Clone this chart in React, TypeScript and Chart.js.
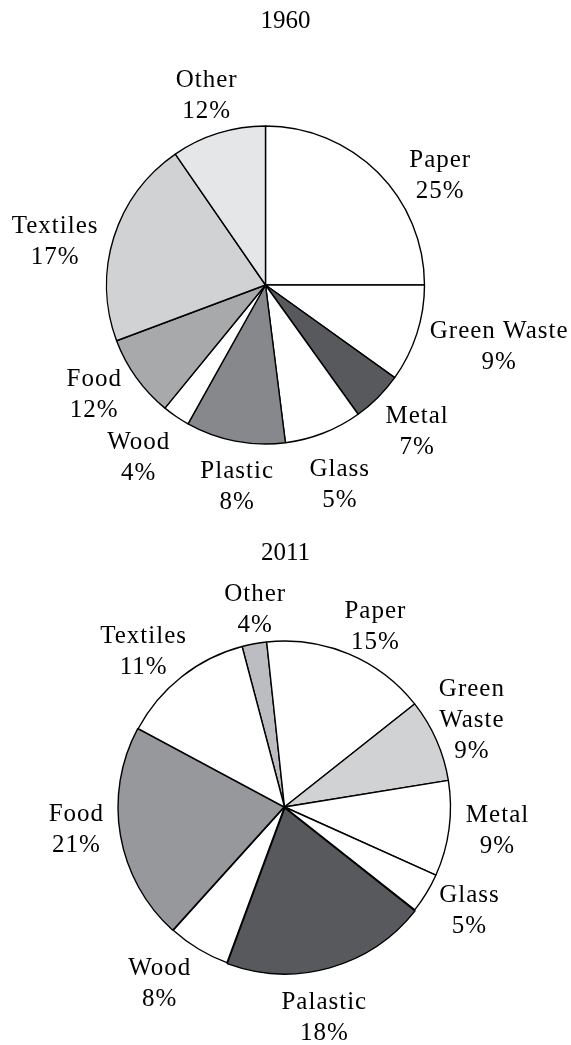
import React, { useEffect, useRef } from 'react';
import { Chart, registerables } from 'chart.js';

Chart.register(...registerables);

// ---------- 1960 ----------
const categories1960 = ['Paper', 'Green Waste', 'Metal', 'Glass', 'Plastic', 'Wood', 'Food', 'Textiles', 'Other'];
// slice sizes as drawn in the picture (share of the circle, %)
const shares1960 = [25.0, 9.9, 5.2, 7.9, 10.1, 2.8, 8.4, 21.1, 9.6];
// percentages printed on the labels
const percentLabels1960 = ['25%', '9%', '7%', '5%', '8%', '4%', '12%', '17%', '12%'];

// ---------- 2011 ----------
const categories2011 = ['Other', 'Paper', 'Green\nWaste', 'Metal', 'Glass', 'Palastic', 'Wood', 'Food', 'Textiles'];
const shares2011 = [2.4, 16.05, 8.1, 9.3, 3.9, 20.0, 6.05, 21.15, 13.05];
const percentLabels2011 = ['4%', '15%', '9%', '9%', '5%', '18%', '8%', '21%', '11%'];

// ---------- styles ----------
const fills1960 = ['#ffffff', '#ffffff', '#58595c', '#ffffff', '#87888b', '#ffffff', '#a8a9ab', '#d1d2d4', '#e5e6e8'];
const fills2011 = ['#bcbdc0', '#ffffff', '#d1d2d4', '#ffffff', '#ffffff', '#58595c', '#ffffff', '#97989b', '#ffffff'];
const offsets2011 = [0, 0, 0, 0, 0, 4, 0, 2, 0];
// label placement tweaks: [angle nudge (deg), gap from rim (px)]
const labelTweaks1960 = [[13, 7], [-3, 9], [-1, 11], [1, 19], [-3, 14], [2, 16], [3, 7], [-6, 8], [0, 5]];
const labelTweaks2011 = [[2, 3], [4, -1], [-1, -7], [-1, 14], [-2, 7], [5, 15], [4, 11], [3.5, 13], [-4, -5]];

const FONT = '"Liberation Serif", "Times New Roman", serif';

const pieLabelPlugin = {
  id: 'pieLabels',
  afterDraw(chart: any, _args: any, opts: any) {
    const ctx = chart.ctx as CanvasRenderingContext2D;
    ctx.save();
    ctx.fillStyle = '#000';
    ctx.textAlign = 'center';
    ctx.textBaseline = 'middle';
    // title
    ctx.font = `${opts.titleSize}px ${FONT}`;
    if ('letterSpacing' in ctx) (ctx as any).letterSpacing = '0px';
    ctx.fillText(opts.title, chart.width / 2, opts.titleY);
    // slice labels
    ctx.font = `${opts.fontSize}px ${FONT}`;
    if ('letterSpacing' in ctx) (ctx as any).letterSpacing = '1px';
    const meta = chart.getDatasetMeta(0);
    const labels = chart.data.labels as string[];
    meta.data.forEach((arc: any, i: number) => {
      const p = arc.getProps(['x', 'y', 'startAngle', 'endAngle', 'outerRadius'], true);
      const [nudge, gap] = opts.tweaks[i];
      const a = (p.startAngle + p.endAngle) / 2 + (nudge * Math.PI) / 180;
      const lines = String(labels[i]).split('\n').concat(opts.percents[i]);
      const w = Math.max(...lines.map((l: string) => ctx.measureText(l).width));
      const hh = ((lines.length - 1) * opts.lineHeight) / 2 + opts.capHalf;
      const d = p.outerRadius + gap + Math.abs(Math.cos(a)) * (w / 2) + Math.abs(Math.sin(a)) * hh;
      const cx = p.x + Math.cos(a) * d;
      const cy = p.y + Math.sin(a) * d;
      lines.forEach((l: string, j: number) => {
        ctx.fillText(l, cx, cy + (j - (lines.length - 1) / 2) * opts.lineHeight);
      });
    });
    ctx.restore();
  },
};

function makeConfig(o: {
  title: string;
  labels: string[];
  values: number[];
  percents: string[];
  colors: string[];
  offsets: number[] | number;
  rotation: number;
  radius: number;
  padding: { top: number; bottom: number; left: number; right: number };
  titleY: number;
  tweaks: number[][];
}): any {
  return {
    type: 'pie',
    data: {
      labels: o.labels,
      datasets: [
        {
          data: o.values,
          backgroundColor: o.colors,
          borderColor: '#000000',
          borderWidth: 1.4,
          offset: o.offsets,
          hoverOffset: 0,
          rotation: o.rotation,
          radius: o.radius,
        },
      ],
    },
    options: {
      responsive: false,
      animation: false,
      events: [],
      layout: { padding: o.padding },
      plugins: {
        legend: { display: false },
        tooltip: { enabled: false },
        title: { display: false },
        pieLabels: {
          title: o.title,
          titleY: o.titleY,
          titleSize: 25,
          fontSize: 25,
          lineHeight: 31,
          capHalf: 10.5,
          percents: o.percents,
          tweaks: o.tweaks,
        },
      },
    },
    plugins: [pieLabelPlugin],
  };
}

export default function App() {
  const ref1 = useRef<HTMLCanvasElement>(null);
  const ref2 = useRef<HTMLCanvasElement>(null);

  useEffect(() => {
    const c1 = new Chart(
      ref1.current as HTMLCanvasElement,
      makeConfig({
        title: '1960',
        labels: categories1960,
        values: shares1960,
        percents: percentLabels1960,
        colors: fills1960,
        offsets: 0,
        rotation: 0,
        radius: 159,
        padding: { top: 50, bottom: 0, left: 0, right: 40 },
        titleY: 21,
        tweaks: labelTweaks1960,
      })
    );
    const c2 = new Chart(
      ref2.current as HTMLCanvasElement,
      makeConfig({
        title: '2011',
        labels: categories2011,
        values: shares2011,
        percents: percentLabels2011,
        colors: fills2011,
        offsets: offsets2011,
        rotation: -14.8,
        radius: 166,
        padding: { top: 50, bottom: 1, left: 0, right: 2 },
        titleY: 33.5,
        tweaks: labelTweaks2011,
      })
    );
    return () => {
      c1.destroy();
      c2.destroy();
    };
  }, []);

  return (
    <div style={{ position: 'absolute', left: 0, top: 0, width: 571, height: 1045, background: '#ffffff' }}>
      <canvas ref={ref1} width={571} height={520} style={{ position: 'absolute', left: 0, top: 0 }} />
      <canvas ref={ref2} width={571} height={525} style={{ position: 'absolute', left: 0, top: 520 }} />
    </div>
  );
}
